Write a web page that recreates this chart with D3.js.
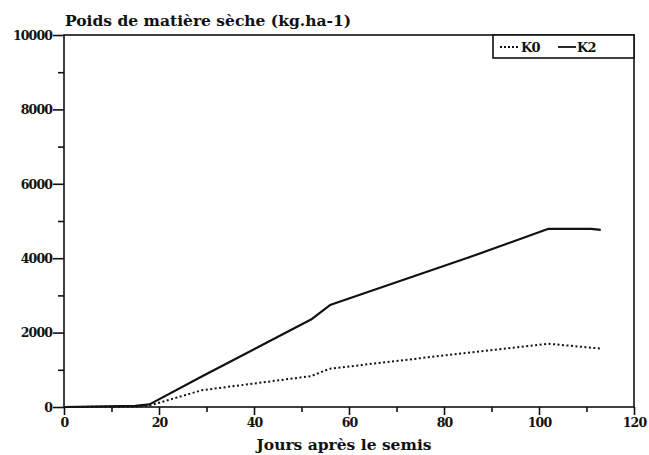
<!DOCTYPE html>
<html>
<head>
<meta charset="utf-8">
<script src="https://cdn.jsdelivr.net/npm/d3@7"></script>
<style>
  html, body { margin: 0; padding: 0; background: #fff; }
  svg text { font-family: "DejaVu Serif", "Liberation Serif", serif; font-weight: bold; fill: #111; }
</style>
</head>
<body>
<svg id="chart" width="649" height="455"></svg>
<script>
// Days after sowing and dry matter weight (kg/ha) for the two treatments
const daysK0 = [0, 15, 18, 29, 52, 56, 85, 102, 113];
const valuesK0 = [0, 10, 40, 450, 830, 1030, 1460, 1700, 1570];
const daysK2 = [0, 15, 18, 29, 52, 56, 85, 102, 111, 113];
const valuesK2 = [0, 30, 70, 820, 2350, 2740, 4010, 4790, 4790, 4760];
const seriesNames = ["K0", "K2"];
const xTicks = [0, 20, 40, 60, 80, 100, 120];
const yTicks = [0, 2000, 4000, 6000, 8000, 10000];

const svg = d3.select("#chart");
const plotLeft = 64, plotRight = 634, plotTop = 35, plotBottom = 407;

const x = d3.scaleLinear().domain([0, 120]).range([plotLeft, plotRight]);
const y = d3.scaleLinear().domain([0, 10000]).range([plotBottom, plotTop]);

const ink = "#111";

// frame
svg.append("rect")
  .attr("x", plotLeft).attr("y", plotTop)
  .attr("width", plotRight - plotLeft).attr("height", plotBottom - plotTop)
  .attr("fill", "none").attr("stroke", ink).attr("stroke-width", 1.6);

// y axis: labelled major ticks and minor ticks between them
const yAxis = d3.axisLeft(y).tickValues(yTicks).tickFormat(d3.format("d")).tickSize(11).tickPadding(1);
const gy = svg.append("g").attr("transform", `translate(${plotLeft},0)`).call(yAxis);
gy.select(".domain").remove();
gy.selectAll("line").attr("stroke", ink).attr("stroke-width", 1.6);
gy.selectAll("text").attr("font-size", 12.5).attr("letter-spacing", -0.9).attr("dy", "0.35em");
const gyMinor = svg.append("g").attr("transform", `translate(${plotLeft},0)`)
  .call(d3.axisLeft(y).tickValues([1000, 3000, 5000, 7000, 9000]).tickSize(6).tickFormat(""));
gyMinor.select(".domain").remove();
gyMinor.selectAll("line").attr("stroke", ink).attr("stroke-width", 1.6);

// x axis
const xAxis = d3.axisBottom(x).tickValues(xTicks).tickFormat(d3.format("d")).tickSize(8).tickPadding(3);
const gx = svg.append("g").attr("transform", `translate(0,${plotBottom})`).call(xAxis);
gx.select(".domain").remove();
gx.selectAll("line").attr("stroke", ink).attr("stroke-width", 1.6);
gx.selectAll("text").attr("font-size", 12.5).attr("letter-spacing", -0.9);
const gxMinor = svg.append("g").attr("transform", `translate(0,${plotBottom})`)
  .call(d3.axisBottom(x).tickValues([10, 30, 50, 70, 90, 110]).tickSize(5).tickFormat(""));
gxMinor.select(".domain").remove();
gxMinor.selectAll("line").attr("stroke", ink).attr("stroke-width", 1.6);

// titles
svg.append("text").attr("x", 65).attr("y", 26).attr("font-size", 15.5)
  .text("Poids de matière sèche (kg.ha-1)");
svg.append("text").attr("x", 344).attr("y", 450).attr("font-size", 15.5)
  .attr("text-anchor", "middle").text("Jours après le semis");

// series
const line = d3.line().x(d => x(d[0])).y(d => y(d[1]));
const k0 = daysK0.map((d, i) => [d, valuesK0[i]]);
const k2 = daysK2.map((d, i) => [d, valuesK2[i]]);

svg.append("path").datum(k0).attr("d", line)
  .attr("fill", "none").attr("stroke", ink).attr("stroke-width", 2)
  .attr("stroke-dasharray", "2,2.5");
svg.append("path").datum(k2).attr("d", line)
  .attr("fill", "none").attr("stroke", ink).attr("stroke-width", 2.2)
  .attr("stroke-linejoin", "round");

// legend box in the top right corner
const lg = svg.append("g");
lg.append("rect").attr("x", 493).attr("y", plotTop).attr("width", plotRight - 493).attr("height", 23)
  .attr("fill", "#fff").attr("stroke", ink).attr("stroke-width", 1.6);
lg.append("line").attr("x1", 500).attr("x2", 520).attr("y1", 47).attr("y2", 47)
  .attr("stroke", ink).attr("stroke-width", 1.8).attr("stroke-dasharray", "2,2");
lg.append("text").attr("x", 521).attr("y", 52).attr("font-size", 13).attr("letter-spacing", -0.8).text(seriesNames[0]);
lg.append("line").attr("x1", 558).attr("x2", 576).attr("y1", 47).attr("y2", 47)
  .attr("stroke", ink).attr("stroke-width", 1.8);
lg.append("text").attr("x", 577).attr("y", 52).attr("font-size", 13).attr("letter-spacing", -0.8).text(seriesNames[1]);
</script>
</body>
</html>
